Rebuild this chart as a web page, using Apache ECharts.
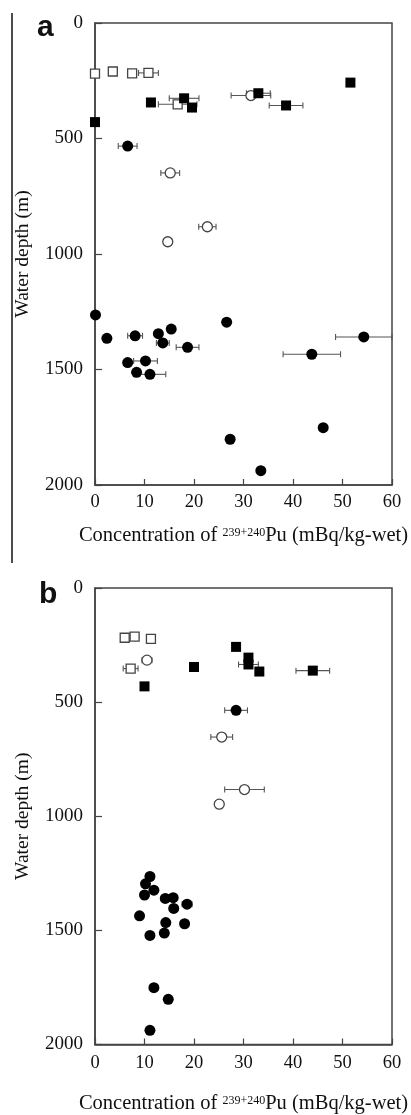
<!DOCTYPE html>
<html><head><meta charset="utf-8">
<script src="https://cdn.jsdelivr.net/npm/echarts@6/dist/echarts.min.js"></script>
<style>html,body{margin:0;padding:0;background:#fff}#c{width:411px;height:1115px}</style>
</head><body><div id="c"></div>
<script>
// [concentration, depth, error]
const aFilledSquares = [[0,429,0],[11.3,344,0],[18.0,326,3.0],[19.6,366,0],[33.0,304,2.4],[38.6,357,3.4],[51.6,258,0]];
const aOpenSquares = [[0,219,0],[3.6,210,0],[7.5,218,0],[10.8,216,2.0],[16.7,352,3.9]];
const aFilledCircles = [[6.6,533,1.9],[0.1,1264,0],[2.4,1365,0],[8.1,1354,1.5],[12.8,1345,0],[15.4,1325,0],[13.7,1385,1.3],[18.7,1404,2.3],[26.6,1295,0],[54.3,1359,5.7],[43.8,1434,5.8],[6.6,1470,0],[10.2,1463,2.4],[8.4,1512,0],[11.1,1521,3.2],[27.3,1802,0],[46.1,1752,0],[33.5,1938,0]];
const aOpenCircles = [[31.5,314,4.0],[15.2,649,1.9],[22.7,882,1.75],[14.7,947,0]];

const bFilledSquares = [[10.0,431,0],[20.0,346,0],[28.5,258,0],[31.0,305,0],[31.0,335,2.0],[33.2,366,0],[44.0,362,3.4]];
const bOpenSquares = [[6.0,218,0],[8.0,213,0.8],[11.3,223,0],[7.2,353,1.5]];
const bFilledCircles = [[28.5,536,2.3],[11.1,1264,0.8],[10.2,1296,0],[11.9,1324,0],[10.0,1345,0],[14.2,1360,0.8],[15.8,1357,0],[15.9,1404,0],[18.6,1385,1.0],[9.0,1436,0],[14.3,1466,0],[18.1,1471,0],[14.0,1512,0],[11.1,1522,0],[11.9,1751,0],[14.8,1802,0],[11.1,1938,0]];
const bOpenCircles = [[10.5,316,1.0],[25.6,653,2.2],[30.2,883,4.0],[25.1,947,0]];

const xTicks = [0,10,20,30,40,50,60];
const yTicks = [0,500,1000,1500,2000];
const panelLabels = ['a','b'];

const FONT = '"Liberation Serif", "Times New Roman", serif';
const chart = echarts.init(document.getElementById('c'));

const grids = [
  {left:95, top:23, width:297, height:462},
  {left:95, top:588, width:297, height:465}
];

function xAxisFor(i){
  return {gridIndex:i, type:'value', min:xTicks[0], max:xTicks[xTicks.length-1], interval:10, position:'bottom',
    axisLine:{show:true,onZero:false,lineStyle:{color:'#444',width:1.5}},
    axisTick:{show:true,inside:true,length:6,lineStyle:{color:'#444',width:1.2}},
    splitLine:{show:false},
    axisLabel:{fontFamily:FONT,fontSize:18.5,color:'#111',margin:i===0?8:9,formatter:v=>String(v)},
    name:'{t|Concentration of }{s|239+240}{t|Pu (mBq/kg-wet)}',
    nameLocation:'middle', nameGap: i===0?40:48,
    nameTextStyle:{rich:{t:{fontFamily:FONT,fontSize:20.5,color:'#111',lineHeight:22},s:{fontFamily:FONT,fontSize:12,color:'#111',lineHeight:22,padding:[0,0,6,0]}}}
  };
}
function yAxisFor(i){
  return {gridIndex:i, type:'value', inverse:true, min:yTicks[0], max:yTicks[yTicks.length-1], interval:500, position:'left',
    axisLine:{show:true,onZero:false,lineStyle:{color:'#444',width:1.5}},
    axisTick:{show:true,inside:true,length:7,lineStyle:{color:'#444',width:1.2}},
    splitLine:{show:false},
    axisLabel:{fontFamily:FONT,fontSize:19,color:'#111',margin:12,formatter:v=>String(v)},
    name:'Water depth (m)', nameLocation:'middle', nameGap:62, nameRotate:90,
    nameTextStyle:{fontFamily:FONT,fontSize:19.5,color:'#111'}
  };
}

function errSeries(i, arrs){
  const data = [];
  arrs.forEach(a=>a.forEach(p=>{ if(p[2]>0) data.push(p); }));
  return {type:'custom', xAxisIndex:i, yAxisIndex:i, z:1, data:data,
    renderItem:function(params, api){
      const v=api.value(0), d=api.value(1), e=api.value(2);
      const p1=api.coord([v-e,d]), p2=api.coord([v+e,d]);
      const h=3, st={stroke:'#555',lineWidth:1.1};
      return {type:'group',children:[
        {type:'line',shape:{x1:p1[0],y1:p1[1],x2:p2[0],y2:p2[1]},style:st},
        {type:'line',shape:{x1:p1[0],y1:p1[1]-h,x2:p1[0],y2:p1[1]+h},style:st},
        {type:'line',shape:{x1:p2[0],y1:p2[1]-h,x2:p2[0],y2:p2[1]+h},style:st}
      ]};
    }};
}
function sc(i, data, symbol, size, filled){
  return {type:'scatter', xAxisIndex:i, yAxisIndex:i, z:3, symbol:symbol, symbolSize:size,
    data:data.map(p=>[p[0],p[1]]),
    itemStyle: filled ? {color:'#000',borderColor:'#000',borderWidth:0,opacity:1}
                      : {color:'#fff',borderColor:'#444',borderWidth:1.3,opacity:1},
    emphasis:{disabled:true}};
}

const series = [
  errSeries(0,[aFilledSquares,aOpenSquares,aFilledCircles,aOpenCircles]),
  sc(0,aOpenSquares,'rect',9,false),
  sc(0,aOpenCircles,'circle',10,false),
  sc(0,aFilledSquares,'rect',10,true),
  sc(0,aFilledCircles,'circle',11,true),
  errSeries(1,[bFilledSquares,bOpenSquares,bFilledCircles,bOpenCircles]),
  sc(1,bOpenSquares,'rect',9,false),
  sc(1,bOpenCircles,'circle',10,false),
  sc(1,bFilledSquares,'rect',10,true),
  sc(1,bFilledCircles,'circle',11,true)
];

chart.setOption({
  animation:false,
  backgroundColor:'#fff',
  grid: grids.map(g=>Object.assign({show:true,borderColor:'#444',borderWidth:1.5,backgroundColor:'transparent'},g)),
  xAxis:[xAxisFor(0),xAxisFor(1)],
  yAxis:[yAxisFor(0),yAxisFor(1)],
  series:series,
  graphic:[
    {type:'line',shape:{x1:12,y1:13,x2:12,y2:563},style:{stroke:'#111',lineWidth:1.5}},
    {type:'text',left:37,top:13,style:{text:panelLabels[0],font:'bold 30px "Liberation Sans", Arial, sans-serif',fill:'#111'}},
    {type:'text',left:39,top:580,style:{text:panelLabels[1],font:'bold 30px "Liberation Sans", Arial, sans-serif',fill:'#111'}}
  ]
});
</script></body></html>
